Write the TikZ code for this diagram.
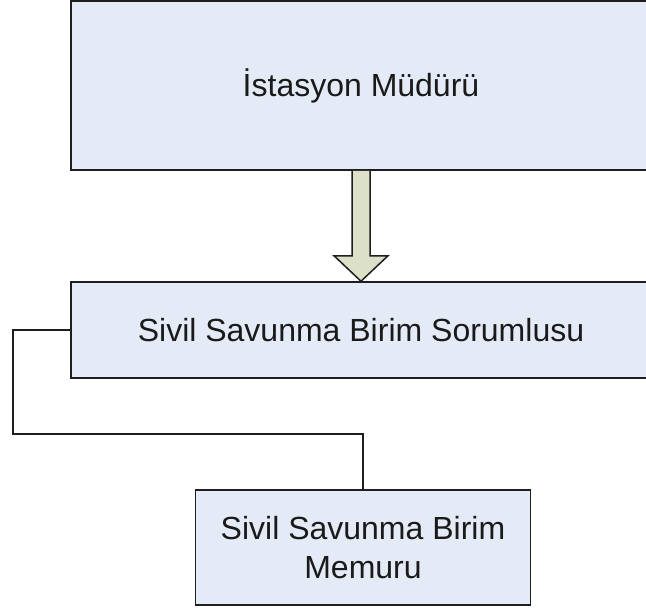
\documentclass[tikz,border=0pt]{standalone}
\usepackage{fontspec}
\setmainfont{Liberation Sans}
\usetikzlibrary{calc}
\definecolor{boxfill}{HTML}{E4EBF6}
\definecolor{arrowfill}{HTML}{DCE0C9}
\definecolor{edge}{HTML}{1E1E1E}
\definecolor{txt}{HTML}{1A1A1A}
\tikzset{
  orgbox/.style={draw=edge, fill=boxfill, line width=1.5pt, rectangle, inner sep=0pt,
    align=center, text=txt, font=\fontsize{32}{38.5}\selectfont},
  bigarrow/.style={draw=edge, fill=arrowfill, line width=1.5pt, line join=miter},
  link/.style={draw=edge, line width=1.5pt}
}
\begin{document}
\begin{tikzpicture}[x=1pt,y=-1pt]
\useasboundingbox (0,0) rectangle (646,608);
\clip (0,0) rectangle (646,608);
\node[orgbox, minimum width=580pt, minimum height=169pt] (top) at (361,85.5) {İstasyon Müdürü};
\node[orgbox, minimum width=580pt, minimum height=96pt] (mid) at (361,330) {Sivil Savunma Birim Sorumlusu};
\node[orgbox, minimum width=335pt, minimum height=115pt] (bot) at (363,547.5) {Sivil Savunma Birim\\Memuru};
\coordinate (turn) at (13,434);
\draw[bigarrow] ([xshift=-9pt]top.south) -- ([xshift=-9pt,yshift=25.5pt]mid.north)
  -- ([xshift=-27pt,yshift=25.5pt]mid.north) -- (mid.north)
  -- ([xshift=27pt,yshift=25.5pt]mid.north) -- ([xshift=9pt,yshift=25.5pt]mid.north)
  -- ([xshift=9pt]top.south);
\draw[link] (mid.west) -| (turn) -| (bot.north);
\end{tikzpicture}
\end{document}
